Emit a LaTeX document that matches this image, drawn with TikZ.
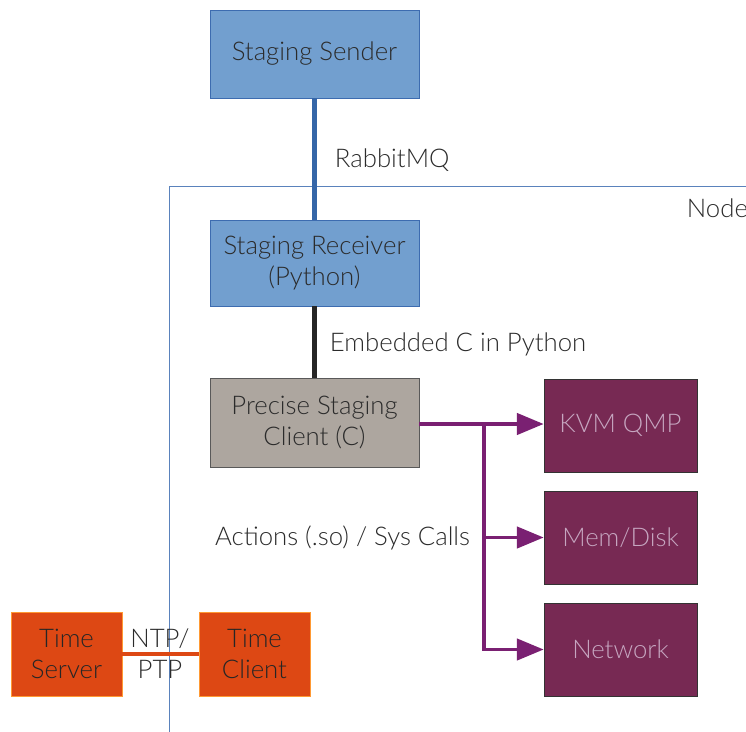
\documentclass[tikz,border=0pt]{standalone}
\usepackage{fontspec}
\setmainfont{Lato Light}
\usepackage{tikz}
\usetikzlibrary{arrows.meta, calc, positioning}
\definecolor{stageblue}{HTML}{729FCF}
\definecolor{stageedge}{HTML}{3D6CB0}
\definecolor{linkblue}{HTML}{3566A8}
\definecolor{clientgray}{HTML}{ADA69F}
\definecolor{actpurple}{HTML}{7A2072}
\definecolor{targetfill}{HTML}{772953}
\definecolor{targettext}{HTML}{C6A6C0}
\definecolor{timeorange}{HTML}{DD4814}
\definecolor{textgray}{HTML}{2B2B2B}
\tikzstyle{component} = [rectangle, draw, text=textgray, align=center,
    font=\fontsize{18.3}{22}\selectfont]
\tikzstyle{line} = [draw, line width=3pt]

\begin{document}
\begin{tikzpicture}[x=0.025cm, y=-0.025cm,
    stage/.style={component, fill=stageblue, draw=stageedge,
        minimum width=5.225cm},
    target/.style={component, fill=targetfill, draw=black!80,
        text=targettext, minimum width=3.825cm, minimum height=2.325cm},
    clock/.style={component, fill=timeorange, draw=orange!80!white,
        text=black!85, minimum width=2.775cm, minimum height=2.1cm},
    tag/.style={text=textgray, font=\fontsize{18.3}{22}\selectfont},
    act/.style={draw=actpurple, line width=2.7pt,
        -{Triangle[length=19pt, width=15pt]}}
    ]
    \clip (0,0) rectangle (746,732);
    \useasboundingbox (0,0) rectangle (746,732);

    % host frame
    \draw[stageedge!85!white, line width=0.7pt] (169,186) rectangle (770,760);
    \node[tag, anchor=west] (hostname) at (682,208) {Node};

    \node[stage, minimum height=2.2cm] (sender) at (314.5,54) {Staging Sender};
    \node[stage, minimum height=2.15cm] (receiver) at (314.5,263)
        {Staging Receiver\\(Python)};
    \node[component, fill=clientgray, draw=black!65, minimum width=5.225cm,
        minimum height=2.225cm] (client) at (314.5,422.5)
        {Precise Staging\\Client (C)};

    \node[target] (kvm) at (620.5,425.5) {KVM QMP};
    \node[target] (mem) at (620.5,537.5) {Mem/Disk};
    \node[target] (net) at (620.5,649.5) {Network};

    \node[clock] (tserver) at (66.5,654) {Time\\Server};
    \node[clock] (tclient) at (254.5,654) {Time\\Client};

    \path[line, linkblue] (sender) -- (receiver);
    \node[tag, anchor=west] (rabbit) at (330,160) {RabbitMQ};
    \path[line, black!85] (receiver) -- (client);
    \node[tag, anchor=west] (embed) at (325,344) {Embedded C in Python};

    \coordinate (fork) at (484,424);
    \draw[act] (client.east |- fork) -- (fork) -- (kvm.west |- fork);
    \draw[act] (fork) |- (mem);
    \draw[act] (fork) |- (net);
    \node[tag, anchor=east] (actions) at (475,538) {Actions (.so) / Sys Calls};

    \path[line, timeorange] (tserver) -- (tclient);
    \node[tag, align=center] (ntp) at (160,654) {NTP/\\PTP};
\end{tikzpicture}
\end{document}
